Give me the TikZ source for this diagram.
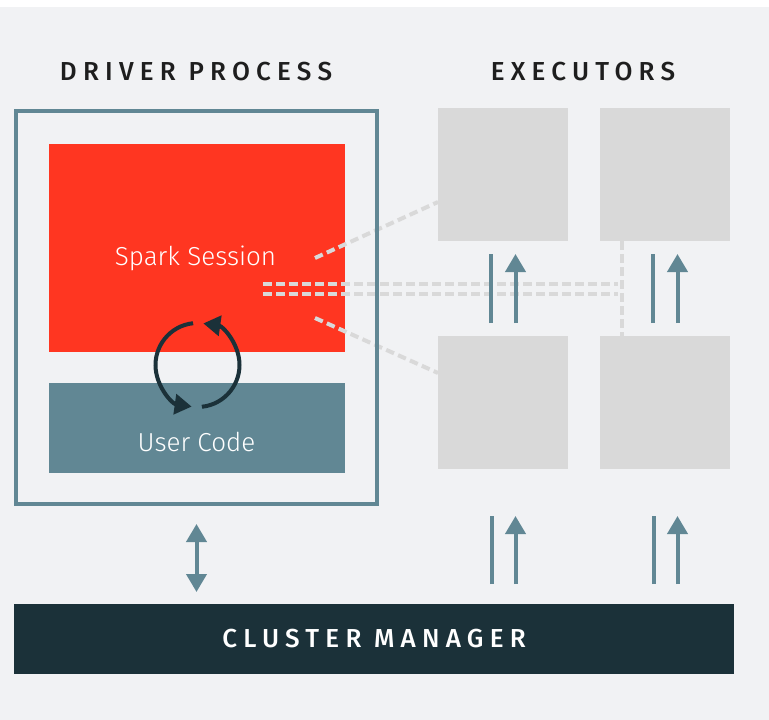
\documentclass[tikz,border=0pt]{standalone}
\usepackage{fontspec}
\setmainfont{Fira Sans}[UprightFont=* Light, BoldFont=* Medium]
\usetikzlibrary{arrows.meta,positioning,calc}
\definecolor{canvas}{HTML}{F1F2F4}
\definecolor{sparkred}{HTML}{FF3621}
\definecolor{codeblue}{HTML}{618794}
\definecolor{navy}{HTML}{1B3139}
\definecolor{execgray}{HTML}{D9D9D9}
\definecolor{titleink}{HTML}{1E1E1E}
\tikzset{
	box/.style={rectangle, inner sep=0pt, outer sep=0pt},
	execbox/.style={box, fill=execgray, minimum width=130, minimum height=133},
	boxtext/.style={text=white, font=\fontsize{26}{30}\selectfont, inner sep=0pt, anchor=base},
	title/.style={text=titleink, inner sep=0pt, font=\fontsize{26}{30}\selectfont\bfseries\addfontfeatures{LetterSpace=24}},
	dashline/.style={draw=execgray, line width=4pt, dash pattern=on 8.5pt off 4.5pt},
	pipe/.style={draw=codeblue, line width=4pt},
	tip/.style={-{Triangle[length=18pt, width=20pt]}},
	spinarrow/.style={draw=navy, line width=4pt, -{Triangle[length=17pt, width=20pt]}}
}
\begin{document}
\begin{tikzpicture}[x=1pt, y=-1pt]
	\useasboundingbox (0,0) rectangle (769,720);
	\fill[white] (0,0) rectangle (769,720);
	\fill[canvas] (0,7) rectangle (769,720);
	% driver side
	\node[box, fill=sparkred, minimum width=296, minimum height=208] (spark) at (197,248) {};
	\node[box, fill=codeblue, minimum width=296, minimum height=90] (code) at (197,428) {};
	\node[boxtext] (sparklabel) at (195.5,265) {Spark Session};
	\node[boxtext] (codelabel) at (196.5,451) {User Code};
	% executors
	\node[execbox] (exA) at (503,174.5) {};
	\node[execbox] (exB) at (665,174.5) {};
	\node[execbox] (exC) at (503,402.5) {};
	\node[execbox] (exD) at (665,402.5) {};
	\node[box, fill=navy, minimum width=720, minimum height=70, text=white, font=\fontsize{26}{30}\selectfont\bfseries\addfontfeatures{LetterSpace=24}] (manager) at (374,639) {CLUSTER MANAGER};
	\node[title] (drivertitle) at (196,72) {DRIVER PROCESS};
	\node[title] (exectitle) at (583,72) {EXECUTORS};
	% dashed links from the session
	\coordinate (fanup) at (315,258);
	\coordinate (fandown) at (315,318);
	\coordinate (busA) at (263,284);
	\coordinate (busB) at (263,294);
	\coordinate (tapup) at ($(exB.south west)+(22,0)$);
	\coordinate (tapdown) at ($(exD.north west)+(22,0)$);
	\draw[dashline] (fanup) -- ($(exA.south west)+(0,-39)$);
	\draw[dashline] (fandown) -- ($(exC.north west)+(0,37)$);
	\draw[dashline, shorten >=4pt] (busA) -- (busA -| tapup);
	\draw[dashline, shorten >=4pt] (busB) -- (busB -| tapup);
	\draw[dashline] (tapup) -- (tapdown);
	\node[box, draw=codeblue, line width=4pt, minimum width=361, minimum height=393] (driver) at (196.5,307.5) {};
	% arrows
	\draw[pipe, {Triangle[length=18pt, width=20pt]}-{Triangle[length=18pt, width=20pt]}, shorten <=20pt, shorten >=12pt] (driver.south) -- (driver.south |- manager.north);
	\foreach \up/\down in {exA/exC, exB/exD} {
		\draw[pipe, shorten <=13pt, shorten >=13pt] ($(\down.north)+(-12,0)$) -- ($(\up.south)+(-12,0)$);
		\draw[pipe, tip, shorten <=13pt, shorten >=13pt] ($(\down.north)+(12.5,0)$) -- ($(\up.south)+(12.5,0)$);
		\coordinate (bar) at ($(\down.south)+(-11.5,0)$);
		\coordinate (head) at ($(\down.south)+(12.5,0)$);
		\draw[pipe, shorten <=20pt, shorten >=47pt] (bar |- manager.north) -- (bar);
		\draw[pipe, tip, shorten <=20pt, shorten >=47pt] (head |- manager.north) -- (head);
	}
	% loop between session and code
	\coordinate (spin) at (197.5,365);
	\draw[spinarrow] ([shift={(264:42)}]spin) arc[start angle=264, end angle=98, radius=42];
	\draw[spinarrow] ([shift={(84:42)}]spin) arc[start angle=84, end angle=-82, radius=42];
\end{tikzpicture}
\end{document}
